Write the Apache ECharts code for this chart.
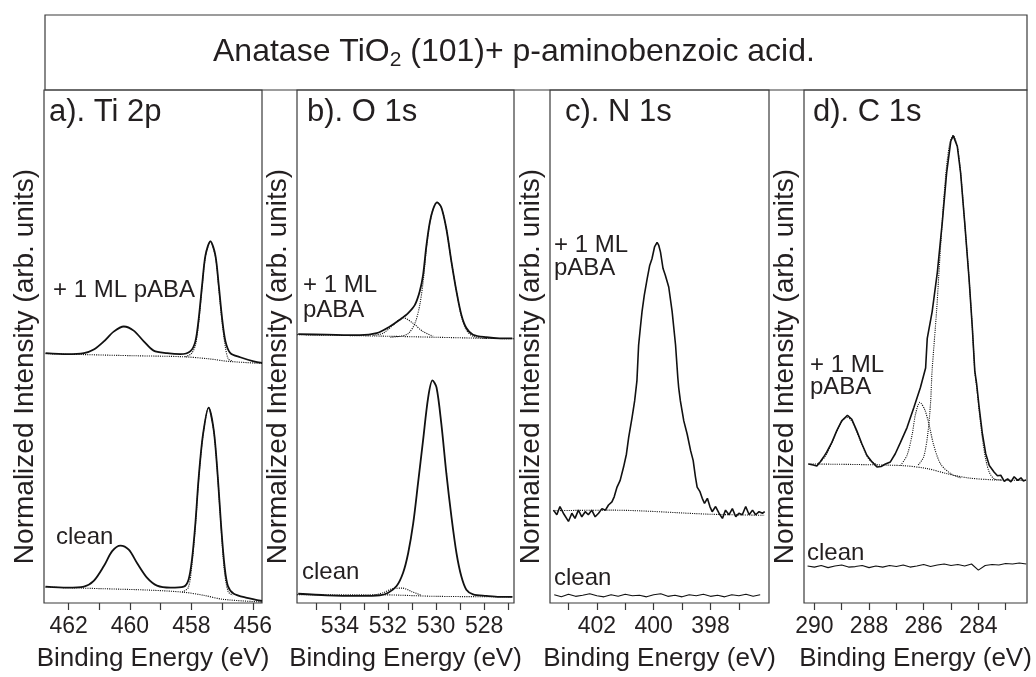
<!DOCTYPE html>
<html>
<head>
<meta charset="utf-8">
<title>Anatase TiO2 (101) + p-aminobenzoic acid</title>
<script src="https://cdn.jsdelivr.net/npm/echarts@6/dist/echarts.min.js"></script>
<style>
  html, body { margin: 0; padding: 0; background: #fff; }
  #chart { width: 1036px; height: 677px; }
</style>
</head>
<body>
<div id="chart"></div>
<script>
// binding energies (eV) and normalized intensities (arb. units, 0-100)

// a). Ti 2p
const tiEnergyPaba = [462.75, 462.04, 461.50, 461.18, 460.85, 460.53, 460.20, 459.88, 459.55, 459.23, 458.79, 458.36, 458.03, 457.87, 457.76, 457.65, 457.54, 457.38, 457.22, 457.11, 457.00, 456.89, 456.73, 456.41, 455.97, 455.70]
const tiPaba = [48.7, 48.5, 48.7, 49.4, 51.0, 52.9, 53.9, 53.1, 51.0, 49.2, 48.7, 48.5, 49.1, 51.0, 55.5, 62.0, 67.8, 70.5, 67.8, 62.0, 55.5, 51.0, 48.7, 47.9, 47.1, 46.8]
const tiBgEnergyPaba = [462.75, 459.88, 458.25, 457.44, 456.79, 455.70]
const tiBgPaba = [48.6, 48.2, 48.0, 47.6, 47.1, 46.7]
const tiCompEnergyPaba = [458.20, 458.00, 457.87, 457.76, 457.65, 457.54, 457.38, 457.22, 457.11, 457.00, 456.89, 456.80, 456.68]
const tiCompPaba = [48.0, 48.6, 50.2, 54.8, 61.6, 67.6, 70.5, 67.6, 61.6, 54.8, 49.8, 47.6, 47.2]

const tiEnergyClean = [462.75, 462.04, 461.50, 461.18, 460.85, 460.58, 460.31, 460.04, 459.77, 459.44, 459.12, 458.68, 458.25, 458.09, 457.98, 457.87, 457.76, 457.62, 457.44, 457.27, 457.14, 457.03, 456.92, 456.81, 456.62, 456.19, 455.70]
const tiClean = [3.2, 3.0, 3.2, 4.3, 7.2, 10.1, 11.2, 10.4, 7.8, 4.9, 3.4, 3.0, 3.2, 4.6, 8.5, 15.5, 24.6, 32.9, 38.1, 33.6, 24.6, 14.9, 7.2, 3.3, 1.8, 1.0, 0.4]
const tiBgEnergyClean = [462.75, 460.96, 459.33, 458.25, 457.60, 456.95, 455.70]
const tiBgClean = [3.1, 2.8, 2.5, 2.1, 1.5, 0.7, 0.2]
const tiCompEnergyClean = [458.30, 458.10, 457.98, 457.87, 457.76, 457.62, 457.44, 457.27, 457.14, 457.03, 456.92, 456.80, 456.65]
const tiCompClean = [2.1, 3.0, 7.6, 15.0, 24.2, 32.7, 38.1, 33.5, 24.4, 14.4, 6.0, 2.2, 1.5]

// b). O 1s
const oEnergyPaba = [535.73, 534.55, 533.17, 532.47, 531.92, 531.51, 531.16, 530.88, 530.68, 530.54, 530.40, 530.26, 530.12, 529.96, 529.78, 529.57, 529.36, 529.15, 528.95, 528.74, 528.46, 527.91, 527.36, 526.83]
const oPaba = [52.4, 52.3, 52.2, 52.6, 53.9, 55.2, 56.5, 58.1, 60.7, 63.9, 69.7, 74.2, 76.8, 78.1, 77.1, 72.9, 66.5, 60.7, 56.2, 53.6, 52.3, 51.8, 51.6, 51.6]
const oBgEnergyPaba = [535.78, 532.00, 530.00, 528.00, 526.76]
const oBgPaba = [52.3, 52.0, 51.8, 51.6, 51.5]
const oShoulderEnergyPaba = [532.61, 532.20, 531.78, 531.37, 530.95, 530.54, 530.12]
const oShoulderPaba = [52.2, 52.6, 54.2, 55.6, 54.5, 52.9, 52.0]
const oMainEnergyPaba = [531.90, 531.50, 531.16, 530.88, 530.68, 530.54, 530.40, 530.26, 530.12, 529.96, 529.78, 529.57, 529.36, 529.15, 528.95, 528.74, 528.46, 527.90]
const oMainPaba = [51.8, 52.0, 52.5, 54.5, 58.0, 62.5, 69.2, 74.0, 76.8, 78.1, 77.1, 72.9, 66.5, 60.7, 56.0, 53.2, 52.0, 51.6]

const oEnergyClean = [535.73, 534.55, 533.17, 532.34, 531.99, 531.64, 531.37, 531.16, 530.95, 530.75, 530.54, 530.33, 530.15, 529.98, 529.78, 529.57, 529.36, 529.15, 528.95, 528.74, 528.46, 527.91, 527.36, 526.83]
const oClean = [1.8, 1.5, 1.4, 1.5, 2.0, 3.3, 5.9, 9.7, 15.5, 23.3, 31.7, 40.0, 43.4, 42.0, 34.9, 25.2, 16.8, 9.7, 5.2, 2.6, 1.7, 1.4, 1.2, 1.2]
const oBgEnergyClean = [535.78, 532.30, 530.00, 526.80]
const oBgClean = [1.6, 1.6, 1.3, 1.2]
const oShoulderEnergyClean = [532.60, 532.20, 531.80, 531.40, 531.00, 530.60]
const oShoulderClean = [1.5, 2.0, 2.8, 2.9, 2.2, 1.5]

// c). N 1s
const nEnergyPaba = [
  403.53, 403.41, 403.30, 403.18, 403.00, 402.88, 402.77, 402.65, 402.53, 402.41, 402.30, 402.18, 402.06, 401.94,
  401.82, 401.70, 401.59, 401.47, 401.39, 401.29, 401.18, 401.06, 400.96, 400.88, 400.76, 400.67, 400.59,
  400.53, 400.47, 400.41, 400.33, 400.23, 400.14, 400.06, 399.97, 399.88, 399.82, 399.76, 399.67, 399.59,
  399.47, 399.35, 399.23, 399.15,
  399.12, 399.06, 398.94, 398.82, 398.70, 398.61, 398.53, 398.47, 398.37, 398.29, 398.21, 398.11, 398.02,
  397.94, 397.82, 397.70, 397.58, 397.47, 397.35, 397.23, 397.11, 397.00, 396.88, 396.76, 396.64, 396.52,
  396.41, 396.29, 396.17, 396.09
]
const nPaba = [
  18.1, 17.2, 18.8, 17.5, 15.9, 17.5, 16.5, 18.1, 16.8, 17.8, 17.2, 18.1, 16.8, 17.5,
  18.4, 18.1, 19.1, 19.7, 20.7, 22.6, 23.9, 26.5, 29.0, 32.3, 36.2, 39.4, 43.3,
  50.3, 53.6, 56.8, 60.0, 63.2, 65.8, 67.1, 69.4, 70.3, 69.7, 68.4, 65.2, 63.9,
  61.6, 56.8, 50.3, 43.9,
  42.0, 39.4, 35.5, 32.9, 29.7, 27.8, 24.6, 22.6, 21.7, 20.4, 19.4, 20.4, 18.8,
  17.8, 18.8, 17.5, 16.5, 18.1, 17.2, 18.4, 16.8, 17.5, 17.2, 18.8, 17.2, 18.1,
  17.2, 17.8, 17.5, 17.8
]
const nBgEnergyPaba = [403.53, 401.50, 398.00, 396.09]
const nBgPaba = [18.0, 18.1, 17.3, 17.1]

const nEnergyClean = [403.50, 403.25, 403.00, 402.75, 402.50, 402.25, 402.00, 401.75, 401.50, 401.25, 401.00, 400.75, 400.50, 400.25, 400.00, 399.75, 399.50, 399.25, 399.00, 398.75, 398.50, 398.25, 398.00, 397.75, 397.50, 397.25, 397.00, 396.75, 396.50, 396.25]
const nClean = [1.6, 1.2, 1.7, 1.3, 1.5, 1.8, 1.4, 1.2, 1.6, 1.3, 1.7, 1.4, 1.5, 1.2, 1.6, 1.8, 1.3, 1.5, 1.2, 1.6, 1.4, 1.7, 1.3, 1.5, 1.2, 1.6, 1.4, 1.7, 1.3, 1.6]

// d). C 1s
const cEnergyPaba = [
  290.22, 290.04, 289.91, 289.79, 289.67, 289.55, 289.36, 289.18, 289.00, 288.79, 288.63, 288.45, 288.26,
  288.08, 287.89, 287.71, 287.56, 287.40, 287.22, 287.04, 286.85, 286.61, 286.36, 286.12, 285.93,
  285.87, 285.69, 285.50, 285.32, 285.16, 285.01, 284.92, 284.77, 284.65, 284.50, 284.34, 284.22, 284.13,
  284.06, 283.97, 283.85, 283.73, 283.60, 283.42, 283.30, 283.18, 283.05, 282.93, 282.81, 282.69, 282.56,
  282.44, 282.35, 282.26
]
const cPaba = [
  27.1, 26.9, 26.7, 27.5, 28.4, 29.4, 31.3, 33.6, 35.5, 36.6, 35.8, 33.6, 31.0,
  28.8, 27.5, 26.5, 26.6, 27.1, 27.5, 29.1, 31.3, 34.2, 38.1, 42.0, 45.8,
  51.6, 56.8, 64.5, 74.2, 83.9, 90.0, 91.1, 89.0, 83.9, 74.2, 63.2, 53.6, 45.2,
  42.6, 38.1, 32.9, 29.1, 26.8, 25.5, 24.8, 24.9, 23.7, 24.2, 23.6, 24.6, 23.9,
  24.4, 23.8, 24.0
]
const cBgEnergyPaba = [290.22, 286.85, 285.87, 285.14, 284.40, 283.42, 282.26]
const cBgPaba = [27.1, 26.8, 26.2, 25.2, 24.4, 24.0, 23.9]
const cCoohEnergyPaba = [289.90, 289.60, 289.30, 289.00, 288.80, 288.60, 288.30, 288.00, 287.70]
const cCoohPaba = [27.0, 28.6, 32.0, 35.4, 36.2, 35.2, 31.4, 28.0, 26.9]
const cMidEnergyPaba = [286.85, 286.61, 286.42, 286.30, 286.14, 285.97, 285.81, 285.63, 285.38, 285.01, 284.65]
const cMidPaba = [26.8, 28.8, 32.9, 36.8, 39.1, 37.8, 34.9, 30.7, 27.1, 25.2, 24.4]
const cMainEnergyPaba = [286.20, 286.00, 285.85, 285.75, 285.69, 285.53, 285.38, 285.20, 285.05, 284.92, 284.77, 284.65, 284.50, 284.34, 284.22, 284.13, 284.06, 283.97, 283.85, 283.73, 283.60, 283.42, 283.18]
const cMainPaba = [26.9, 28.5, 33.0, 39.0, 45.5, 56.8, 69.7, 83.0, 89.5, 91.1, 89.0, 83.9, 74.2, 63.2, 53.6, 45.2, 42.0, 37.5, 32.0, 28.0, 25.5, 24.2, 24.0]

const cEnergyClean = [290.25, 290.00, 289.75, 289.50, 289.25, 289.00, 288.75, 288.50, 288.25, 288.00, 287.75, 287.50, 287.25, 287.00, 286.75, 286.50, 286.25, 286.00, 285.75, 285.50, 285.25, 285.00, 284.75, 284.50, 284.25, 284.00, 283.75, 283.50, 283.25, 283.00, 282.75, 282.50, 282.25]
const cClean = [7.2, 7.0, 7.3, 6.9, 7.2, 7.4, 7.0, 7.1, 7.3, 6.9, 7.2, 7.0, 7.3, 7.1, 7.4, 7.0, 7.2, 7.5, 7.1, 7.4, 7.6, 7.3, 7.5, 7.2, 7.6, 6.4, 7.3, 7.5, 7.4, 7.7, 7.6, 7.8, 7.6]

// axis ticks
const tiTicks = [456, 457, 458, 459, 460, 461, 462]
const tiTickLabels = [456, 458, 460, 462]
const oTicks = [527, 528, 529, 530, 531, 532, 533, 534, 535]
const oTickLabels = [528, 530, 532, 534]
const nTicks = [397, 398, 399, 400, 401, 402, 403]
const nTickLabels = [398, 400, 402]
const cTicks = [283, 284, 285, 286, 287, 288, 289, 290]
const cTickLabels = [284, 286, 288, 290]

const FONT = '"Liberation Sans", Arial, Helvetica, sans-serif'
const INK = '#231f20'

function pairs(xs, ys) {
  return xs.map((x, i) => [x, ys[i]])
}

function line(xs, ys, kind, gridIndex) {
  const styles = {
    solid: { width: 1.8, type: 'solid', smooth: 0.3, z: 3 },
    noisy: { width: 1.6, type: 'solid', smooth: false, z: 3 },
    thin: { width: 1.1, type: 'solid', smooth: false, z: 3 },
    dot: { width: 1.1, type: 'dotted', smooth: 0.3, z: 2 }
  }
  const s = styles[kind]
  return {
    type: 'line',
    xAxisIndex: gridIndex,
    yAxisIndex: gridIndex,
    data: pairs(xs, ys),
    showSymbol: false,
    symbol: 'none',
    smooth: s.smooth,
    z: s.z,
    lineStyle: { color: '#111', width: s.width, type: s.type },
    silent: true
  }
}

const panels = [
  {
    left: 44, width: 218, min: 455.7, max: 462.8, ticks: tiTicks, labels: tiTickLabels,
    series: [
      line(tiBgEnergyPaba, tiBgPaba, 'dot', 0),
      line(tiCompEnergyPaba, tiCompPaba, 'dot', 0),
      line(tiEnergyPaba, tiPaba, 'solid', 0),
      line(tiBgEnergyClean, tiBgClean, 'dot', 0),
      line(tiCompEnergyClean, tiCompClean, 'dot', 0),
      line(tiEnergyClean, tiClean, 'solid', 0)
    ]
  },
  {
    left: 297, width: 217, min: 526.76, max: 535.78, ticks: oTicks, labels: oTickLabels,
    series: [
      line(oBgEnergyPaba, oBgPaba, 'dot', 1),
      line(oShoulderEnergyPaba, oShoulderPaba, 'dot', 1),
      line(oMainEnergyPaba, oMainPaba, 'dot', 1),
      line(oEnergyPaba, oPaba, 'solid', 1),
      line(oBgEnergyClean, oBgClean, 'dot', 1),
      line(oShoulderEnergyClean, oShoulderClean, 'dot', 1),
      line(oEnergyClean, oClean, 'solid', 1)
    ]
  },
  {
    left: 550, width: 219, min: 395.94, max: 403.65, ticks: nTicks, labels: nTickLabels,
    series: [
      line(nBgEnergyPaba, nBgPaba, 'dot', 2),
      line(nEnergyPaba, nPaba, 'noisy', 2),
      line(nEnergyClean, nClean, 'thin', 2)
    ]
  },
  {
    left: 804, width: 223, min: 282.22, max: 290.38, ticks: cTicks, labels: cTickLabels,
    series: [
      line(cBgEnergyPaba, cBgPaba, 'dot', 3),
      line(cCoohEnergyPaba, cCoohPaba, 'dot', 3),
      line(cMidEnergyPaba, cMidPaba, 'dot', 3),
      line(cMainEnergyPaba, cMainPaba, 'dot', 3),
      line(cEnergyPaba, cPaba, 'noisy', 3),
      line(cEnergyClean, cClean, 'thin', 3)
    ]
  }
]

function label(text, x, y, size, lineHeight) {
  return {
    type: 'text',
    left: x,
    top: y,
    silent: true,
    style: {
      text: text,
      fill: INK,
      font: size + 'px ' + FONT,
      lineHeight: lineHeight || size
    }
  }
}

const chart = echarts.init(document.getElementById('chart'))

chart.setOption({
  animation: false,
  backgroundColor: '#fff',
  textStyle: { fontFamily: FONT },
  grid: panels.map(p => ({
    left: p.left,
    top: 90,
    width: p.width,
    height: 517,
    show: true,
    borderColor: '#3a3a3a',
    borderWidth: 1.2
  })),
  xAxis: panels.map((p, i) => ({
    type: 'value',
    gridIndex: i,
    min: p.min,
    max: p.max,
    inverse: true,
    name: 'Binding Energy (eV)',
    nameLocation: 'middle',
    nameGap: 43,
    nameTextStyle: { color: INK, fontSize: 26, fontFamily: FONT },
    axisLine: { show: false },
    splitLine: { show: false },
    axisTick: {
      show: true,
      inside: false,
      length: 7,
      customValues: p.ticks,
      lineStyle: { color: '#3a3a3a', width: 1.2 }
    },
    axisLabel: {
      customValues: p.labels,
      margin: 12,
      color: INK,
      fontSize: 23,
      fontFamily: FONT
    }
  })),
  yAxis: panels.map((p, i) => ({
    type: 'value',
    gridIndex: i,
    min: 0,
    max: 100,
    name: 'Normalized Intensity (arb. units)',
    nameLocation: 'middle',
    nameRotate: 90,
    nameGap: 5,
    nameTextStyle: { color: INK, fontSize: 28, fontFamily: FONT, padding: [0, 40, 0, 0] },
    axisLine: { show: false },
    axisTick: { show: false },
    axisLabel: { show: false },
    splitLine: { show: false }
  })),
  graphic: [
    {
      type: 'rect',
      silent: true,
      shape: { x: 45, y: 15, width: 982, height: 75 },
      style: { fill: 'none', stroke: '#3a3a3a', lineWidth: 1.2 }
    },
    {
      type: 'text',
      left: 213,
      top: 36,
      silent: true,
      style: {
        text: '{a|Anatase TiO}{s|2}{a| (101)+ p-aminobenzoic acid.}',
        rich: {
          a: { fontSize: 32, fontFamily: FONT, fill: INK, lineHeight: 36 },
          s: { fontSize: 21, fontFamily: FONT, fill: INK, padding: [17, 0, 0, 0] }
        }
      }
    },
    label('a). Ti 2p', 49, 97, 31),
    label('b). O 1s', 307, 97, 31),
    label('c). N 1s', 565, 97, 31),
    label('d). C 1s', 813, 97, 31),
    label('+ 1 ML pABA', 53, 278, 24),
    label('clean', 56, 525, 24),
    label('+ 1 ML\npABA', 303, 273, 24, 25),
    label('clean', 302, 560, 24),
    label('+ 1 ML\npABA', 554, 233, 24, 23),
    label('clean', 554, 566, 24),
    label('+ 1 ML\npABA', 810, 353, 24, 22),
    label('clean', 807, 541, 24)
  ],
  series: panels.flatMap(p => p.series)
})
</script>
</body>
</html>
